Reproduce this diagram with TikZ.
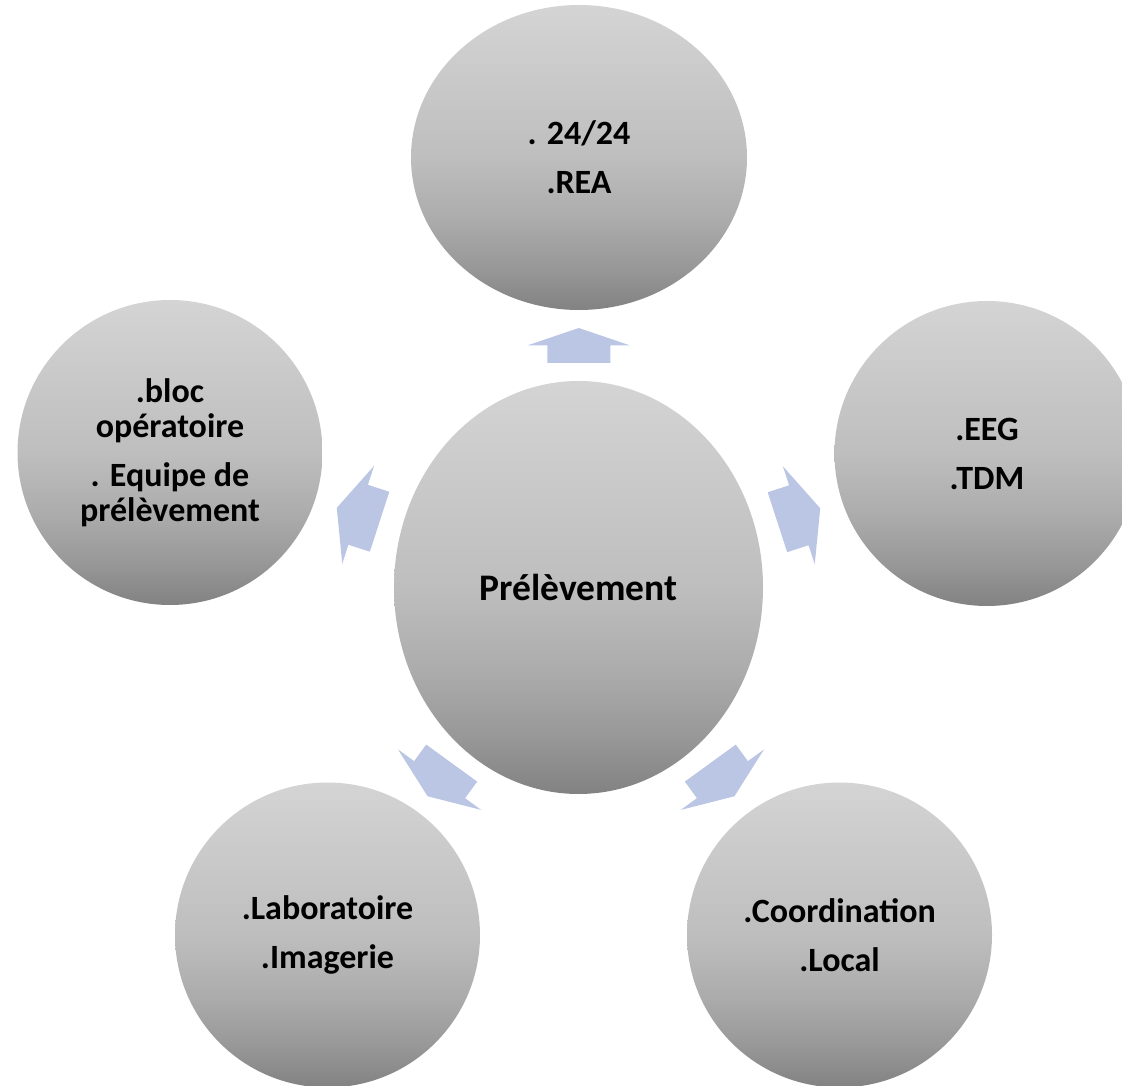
\documentclass[tikz,border=0pt]{standalone}
\usepackage{fontspec}
\setmainfont{Carlito}
\usetikzlibrary{shapes.geometric,calc}

\definecolor{orbtop}{RGB}{212,212,212}
\definecolor{orbcen}{RGB}{190,190,190}
\definecolor{orbmid}{RGB}{172,172,172}
\definecolor{orblow}{RGB}{152,152,152}
\definecolor{orbbot}{RGB}{130,130,130}
\definecolor{arrowblue}{RGB}{186,198,228}

\pgfdeclareverticalshading{orbgray}{100bp}{color(0bp)=(orbbot); color(25bp)=(orbbot); color(32bp)=(orblow); color(40bp)=(orbmid); color(50bp)=(orbcen); color(75bp)=(orbtop); color(100bp)=(orbtop)}

\begin{document}
\begin{tikzpicture}[x=1pt, y=1pt]
	\tikzstyle{orb} = [
		ellipse, shade, shading=orbgray, inner sep=0pt, align=center,
		font=\bfseries\fontsize{34}{35}\selectfont
	]
	\tikzstyle{orb_small} = [
		orb, minimum width=305, minimum height=305
	]
	\tikzset{
		pics/radarrow/.style={code={
			\fill[arrowblue] (-#1,-31.5) -- (0,-31.5) -- (0,-51.5) -- (#1,0) -- (0,51.5) -- (0,31.5) -- (-#1,31.5) -- cycle;
		}}
	}

	\clip (0,0) rectangle (1122,1085);

	% Centre
	\node (Center) [orb, minimum width=369, minimum height=413, font=\bfseries\fontsize{37.5}{40}\selectfont] at (578.5,497.5) {Pr\'el\`evement};

	% Satellites
	\node (Top) [orb_small, minimum width=336] at (579,927.5) {. 24/24\\[14pt].REA};
	\node (Right) [orb_small] at (987,631.5) {.EEG\\[14pt].TDM};
	\node (Left) [orb_small] at (170,632.5) {.bloc\\op\'eratoire\\[14pt]. Equipe de\\pr\'el\`evement};
	\node (BotLeft) [orb_small] at (327.5,150) {.Laboratoire\\[14pt].Imagerie};
	\node (BotRight) [orb_small] at (839.5,150) {.Coordination\\[14pt].Local};

	% Arrows centre -> satellites
	\pic (arrTop)      [rotate=90]   at ($(Center.90)!0.5!(Top.-90)$)       {radarrow=17.5};
	\pic (arrRight)    [rotate=18]   at ($(Center.18)!0.5!(Right.198)$)     {radarrow=22.5};
	\pic (arrLeft)     [rotate=162]  at ($(Center.162)!0.5!(Left.-18)$)     {radarrow=22.5};
	\pic (arrBotRight) [rotate=-54]  at ($(Center.-54)!0.5!(BotRight.126)$) {radarrow=20.5};
	\pic (arrBotLeft)  [rotate=-126] at ($(Center.-126)!0.5!(BotLeft.54)$)  {radarrow=20.5};
\end{tikzpicture}
\end{document}
